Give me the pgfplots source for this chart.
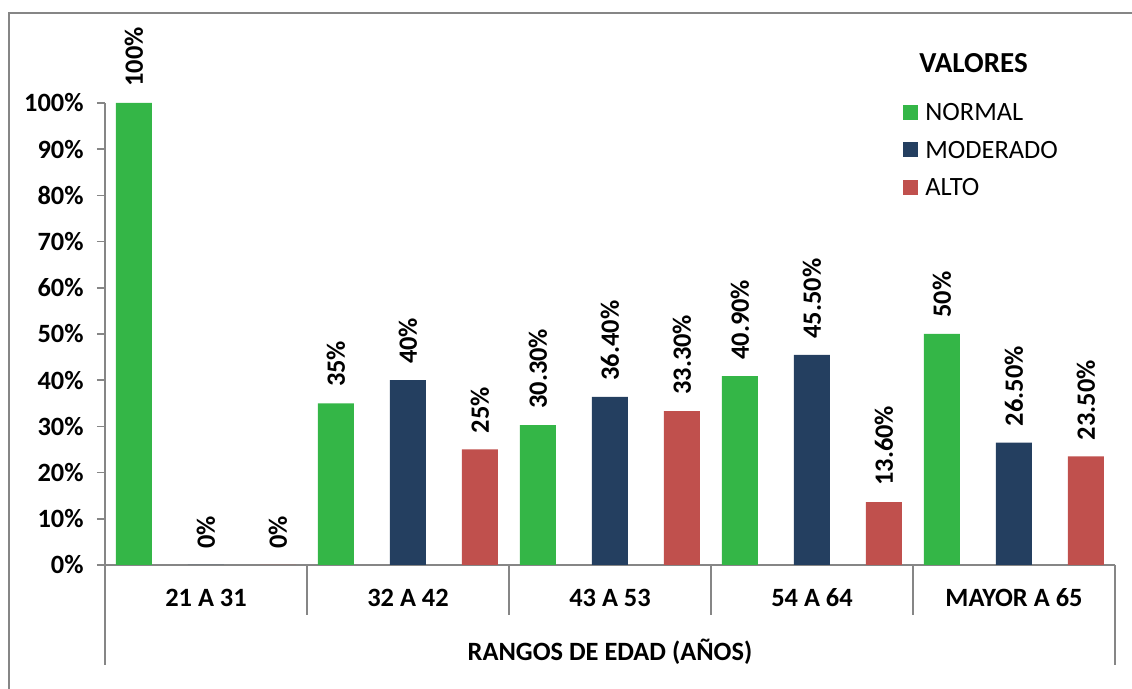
\documentclass[border=0pt]{standalone}
\usepackage{fontspec}
\setmainfont{Carlito}
\usepackage{pgfplots}
\pgfplotsset{compat=1.18}

\definecolor{cnormal}{HTML}{34B647}
\definecolor{cmoderado}{HTML}{243F60}
\definecolor{calto}{HTML}{C0504D}
\definecolor{linegray}{HTML}{868686}

\newcommand\chartfont{\fontsize{13.2}{15}\selectfont}

\begin{document}
\begin{tikzpicture}[x=1pt,y=1pt]
\useasboundingbox (0,0) rectangle (566,-344.5);
% outer frame
\draw[linegray, line width=0.75pt] (4.5,-360) -- (4.5,-6.5) -- (580,-6.5);
\begin{axis}[
  at={(52.5pt,-282.5pt)}, anchor=south west,
  scale only axis, width=505pt, height=231pt,
  xmin=-0.5, xmax=4.5, ymin=0, ymax=100,
  clip=false,
  axis x line*=bottom, axis y line*=left,
  axis line style={linegray, line width=0.75pt},
  ybar, bar width=18pt,
  tick align=outside, major tick length=4pt,
  xtick={0,...,4},
  xticklabels={21 A 31, 32 A 42, 43 A 53, 54 A 64, MAYOR A 65},
  xtick style={draw=none},
  xticklabel style={anchor=center, inner sep=0pt, yshift=-12.5pt, font=\chartfont\bfseries},
  ytick={0,10,...,100},
  yticklabel={\pgfmathprintnumber{\tick}\%},
  ytick style={linegray, line width=0.75pt},
  yticklabel style={anchor=east, inner sep=0pt, xshift=-6.5pt, font=\chartfont\bfseries},
  /pgf/number format/assume math mode=true,
  xlabel={RANGOS DE EDAD (AÑOS)},
  xlabel style={font=\chartfont\bfseries, at={(axis description cs:0.5,0)}, anchor=center, yshift=-43.5pt},
  point meta=explicit symbolic,
  nodes near coords,
  nodes near coords style={rotate=90, anchor=west, inner xsep=8pt, inner ysep=0pt, font=\chartfont\bfseries, text=black},
  legend style={at={(axis description cs:0.7901,0.9989)}, anchor=north west, draw=none, fill=none,
    inner sep=0pt, row sep=10.25pt, column sep=3.5pt, font=\chartfont,
    nodes={inner sep=0pt, text height=8.5pt, text depth=0pt}},
  legend cell align=left,
  legend image code/.code={\fill[#1] (0pt,-3.75pt) rectangle (7.5pt,3.75pt);},
]
\addplot[fill=cnormal, draw=none, bar shift=-36pt] coordinates {
  (0,100) [100\%] (1,35) [35\%] (2,30.3) [30.30\%] (3,40.9) [40.90\%] (4,50) [50\%]};
\addlegendentry{NORMAL}
\addplot[fill=cmoderado, draw=none, bar shift=0pt] coordinates {
  (0,0) [0\%] (1,40) [40\%] (2,36.4) [36.40\%] (3,45.5) [45.50\%] (4,26.5) [26.50\%]};
\addlegendentry{MODERADO}
\addplot[fill=calto, draw=none, bar shift=36pt] coordinates {
  (0,0) [0\%] (1,25) [25\%] (2,33.3) [33.30\%] (3,13.6) [13.60\%] (4,23.5) [23.50\%]};
\addlegendentry{ALTO}
% category separators of the grouped x axis
\pgfplotsinvokeforeach{0.5,1.5,2.5,3.5}{
  \draw[linegray, line width=0.75pt] (axis cs:#1,0) -- ++(0pt,-25pt);
}
\draw[linegray, line width=0.75pt] (axis cs:-0.5,0) -- ++(0pt,-50pt);
\draw[linegray, line width=0.75pt] (axis cs:4.5,0) -- ++(0pt,-50pt);
\end{axis}
\node[font=\fontsize{14.5}{16}\selectfont\bfseries, anchor=center, inner sep=0pt] at (486.75,-31.5) {VALORES};
\end{tikzpicture}
\end{document}
